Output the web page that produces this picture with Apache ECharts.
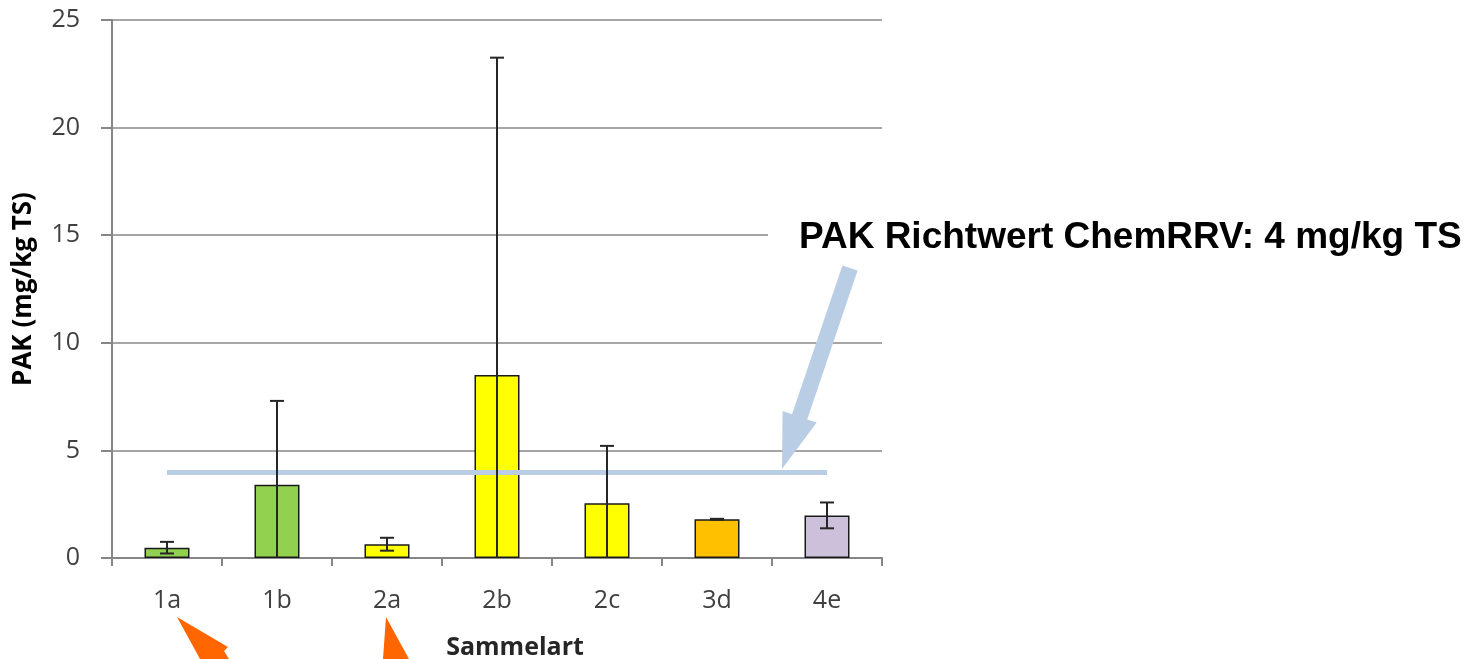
<!DOCTYPE html>
<html>
<head>
<meta charset="utf-8">
<script src="https://cdn.jsdelivr.net/npm/echarts@6/dist/echarts.min.js"></script>
<style>
html,body{margin:0;padding:0;background:#fff;}
#c{width:1481px;height:659px;}
</style>
</head>
<body>
<div id="c"></div>
<script>
// ---- data ----
var categories = ['1a', '1b', '2a', '2b', '2c', '3d', '4e'];
var values = [0.48, 3.4, 0.64, 8.5, 2.54, 1.8, 1.98];
var errors = [0.27, 3.9, 0.3, 14.75, 2.67, 0.02, 0.6];
var barColors = ['#92D050', '#92D050', '#FFFF00', '#FFFF00', '#FFFF00', '#FFC000', '#CCC0DA'];
var yTicks = [0, 5, 10, 15, 20, 25];
var limitValue = 4;
var limitText = 'PAK Richtwert ChemRRV: 4 mg/kg TS';
var yName = 'PAK (mg/kg TS)';
var xName = 'Sammelart';

var chart = echarts.init(document.getElementById('c'));
var tickFont = '"Open Sans", sans-serif';

var errData = categories.map(function (c, i) { return [i, values[i], errors[i]]; });

function renderErr(params, api) {
  var i = api.value(0), v = api.value(1), e = api.value(2);
  var lo = Math.max(0, v - e), hi = v + e;
  var pHi = api.coord([i, hi]);
  var pLo = api.coord([i, lo]);
  var cw = 7;
  var st = { stroke: '#262626', lineWidth: 2 };
  var ch = [
    { type: 'line', shape: { x1: pHi[0], y1: pHi[1], x2: pLo[0], y2: pLo[1] }, style: st },
    { type: 'line', shape: { x1: pHi[0] - cw, y1: pHi[1], x2: pHi[0] + cw, y2: pHi[1] }, style: st }
  ];
  if (v - e >= 0) {
    ch.push({ type: 'line', shape: { x1: pLo[0] - cw, y1: pLo[1], x2: pLo[0] + cw, y2: pLo[1] }, style: st });
  }
  return { type: 'group', children: ch };
}

var option = {
  animation: false,
  backgroundColor: '#fff',
  grid: { left: 112, right: 599, top: 20, bottom: 101, containLabel: false, outerBoundsMode: 'none' },
  xAxis: {
    type: 'category',
    data: categories,
    name: xName,
    nameLocation: 'middle',
    nameGap: 77,
    nameTextStyle: { fontFamily: tickFont, fontSize: 25, fontWeight: 'bold', color: '#262626', padding: [0, 0, 0, 36] },
    axisLine: { show: true, lineStyle: { color: '#868686', width: 2 } },
    axisTick: { show: true, length: 8, lineStyle: { color: '#868686', width: 2 } },
    axisLabel: { margin: 30, fontFamily: tickFont, fontSize: 25, color: '#404040' }
  },
  yAxis: {
    type: 'value',
    min: 0, max: 25, interval: 5,
    name: yName,
    nameLocation: 'middle',
    nameGap: 75,
    nameRotate: 90,
    nameTextStyle: { fontFamily: tickFont, fontSize: 26, fontWeight: 'bold', color: '#000' },
    axisLine: { show: true, lineStyle: { color: '#868686', width: 2 } },
    axisTick: { show: true, length: 11, lineStyle: { color: '#868686', width: 2 } },
    axisLabel: {
      margin: 32, fontFamily: tickFont, fontSize: 25, color: '#404040',
      formatter: function (v) { return yTicks.indexOf(v) >= 0 ? String(v) : ''; }
    },
    splitLine: { show: true, lineStyle: { color: '#A6A6A6', width: 2 } }
  },
  series: [
    {
      type: 'bar',
      barWidth: 45,
      data: values.map(function (v, i) {
        return { value: v, itemStyle: { color: barColors[i], borderColor: '#1a1a1a', borderWidth: 1.5 } };
      }),
      markLine: {
        silent: true,
        symbol: 'none',
        label: { show: false },
        lineStyle: { color: '#B9CDE5', width: 5, type: 'solid' },
        data: [[{ xAxis: categories[0], yAxis: limitValue }, { xAxis: categories[categories.length - 1], yAxis: limitValue }]]
      },
      z: 2
    },
    {
      type: 'custom',
      renderItem: renderErr,
      data: errData,
      encode: { x: 0, y: [1, 2] },
      z: 5
    }
  ]
};
chart.setOption(option);

// ---- annotations ----
var lineY = chart.convertToPixel({ yAxisIndex: 0 }, limitValue);
var tip = [782, lineY - 3];
var tail = [850, 268];
var dx = tip[0] - tail[0], dy = tip[1] - tail[1];
var len = Math.sqrt(dx * dx + dy * dy);
var d = [dx / len, dy / len], n = [-d[1], d[0]];
var hw = 8, hh = 18, hl = 55;
var B = [tip[0] - hl * d[0], tip[1] - hl * d[1]];
function pt(p, k) { return [p[0] + k * n[0], p[1] + k * n[1]]; }
var arrowPts = [pt(tail, hw), pt(B, hw), pt(B, hh), tip, pt(B, -hh), pt(B, -hw), pt(tail, -hw)];

chart.setOption({
  graphic: [
    {
      type: 'text', left: 768, top: 217, z: 10,
      style: {
        text: limitText,
        font: 'bold 37px "Liberation Sans", Arial, sans-serif',
        fill: '#000',
        backgroundColor: '#fff',
        padding: [2, 4, 2, 31]
      }
    },
    { type: 'polygon', z: 10, shape: { points: arrowPts }, style: { fill: '#B9CDE5' } },
    { type: 'polygon', z: 10, shape: { points: [[177, 617], [228, 647], [224, 651], [229, 659], [200, 659]] }, style: { fill: '#FF6600' } },
    { type: 'polygon', z: 10, shape: { points: [[386, 617], [409, 659], [383, 659]] }, style: { fill: '#FF6600' } }
  ]
});
</script>
</body>
</html>
